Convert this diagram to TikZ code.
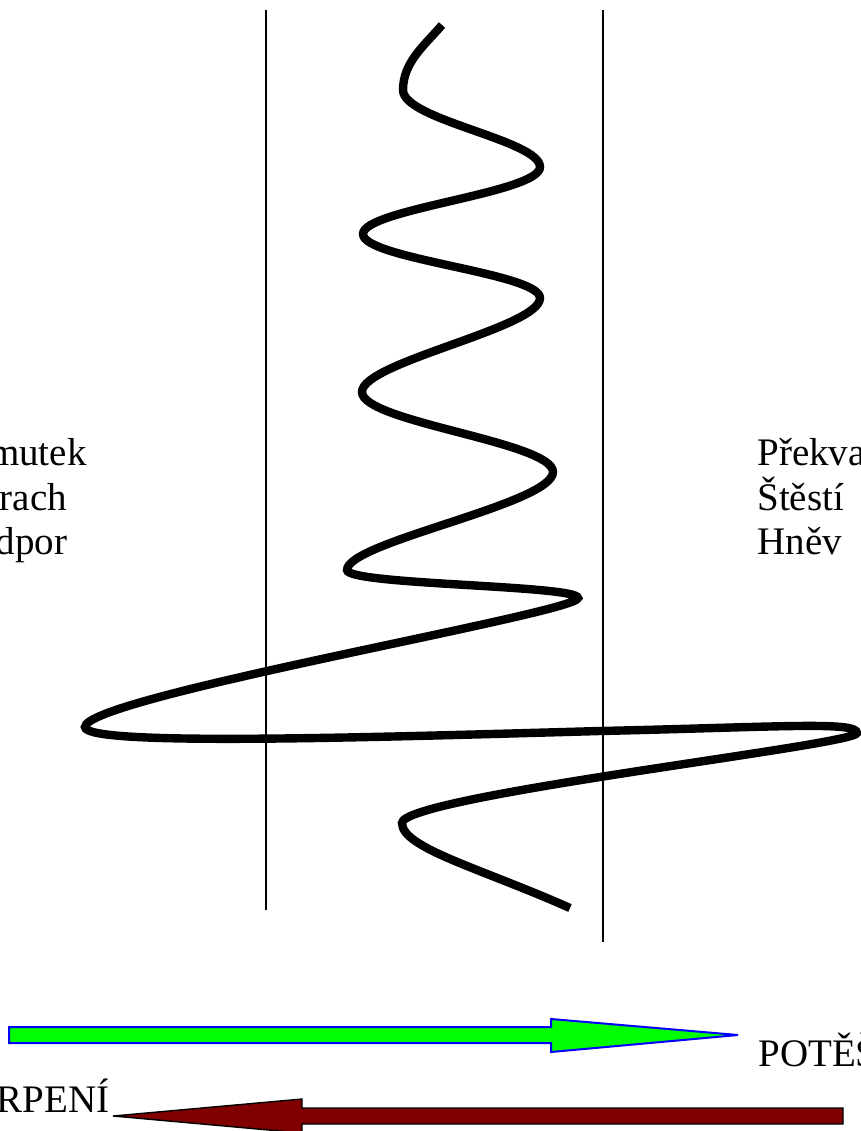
\documentclass[tikz,border=0pt]{standalone}
\usepackage{fontspec}
\setmainfont{Liberation Serif}
\begin{document}
\begin{tikzpicture}[x=0.5pt,y=-0.5pt,
  wave/.style={line width=4.2pt},
  divider/.style={line width=1pt},
  lbl/.style={anchor=base west,inner sep=0pt,font=\fontsize{19.5}{22}\selectfont}]
\useasboundingbox (0,0) rectangle (861,1131);
\clip (0,0) rectangle (861,1131);
% the two borders
\draw[divider] (266,10) -- (266,910);
\draw[divider] (603,10) -- (603,942);
% the wave
\draw[wave] (442,25) .. controls (425,45) and (403,62) .. (403,90)
  .. controls +(0,30) and +(0,-27) .. (540,167)
  .. controls +(0,26) and +(0,-25) .. (363,234)
  .. controls +(0,25) and +(0,-25) .. (540,298)
  .. controls +(0,30) and +(0,-30) .. (362,392)
  .. controls +(0,30) and +(0,-30) .. (553,472)
  .. controls +(0,32) and +(0,-28) .. (347,570)
  .. controls +(0,15) and +(0,-13) .. (578,598)
  .. controls +(0,15) and +(0,-30) .. (85,727)
  .. controls (85,746) and (350,738) .. (600,731)
  .. controls (780,727) and (857,721) .. (857,733)
  .. controls +(0,12) and +(0,-27) .. (402,823)
  .. controls (402,848) and (480,868) .. (570,908);
% labels
\node[lbl] (smutek) at (-33,465) {Smutek};
\node[lbl] (strach) at (-33,510) {Strach};
\node[lbl] (odpor) at (-33,554) {Odpor};
\node[lbl] (prekvapeni) at (757,465) {Překvapení};
\node[lbl] (stesti) at (757,510) {Štěstí};
\node[lbl] (hnev) at (757,554) {Hněv};
% arrows
\draw[blue,line width=1pt,fill=green] (9,1027) -- (551,1027) -- (551,1019) -- (738,1035)
  -- (551,1052) -- (551,1043) -- (9,1043) -- cycle;
\draw[black,line width=0.7pt,fill={rgb,255:red,128;green,0;blue,0}] (843,1108) -- (302,1108)
  -- (302,1099) -- (113,1116) -- (302,1133) -- (302,1124) -- (843,1124) -- cycle;
\node[lbl] (poteseni) at (758,1066) {POTĚŠENÍ};
\node[lbl,anchor=base east] (utrpeni) at (110,1112) {UTRPENÍ};
\end{tikzpicture}
\end{document}
